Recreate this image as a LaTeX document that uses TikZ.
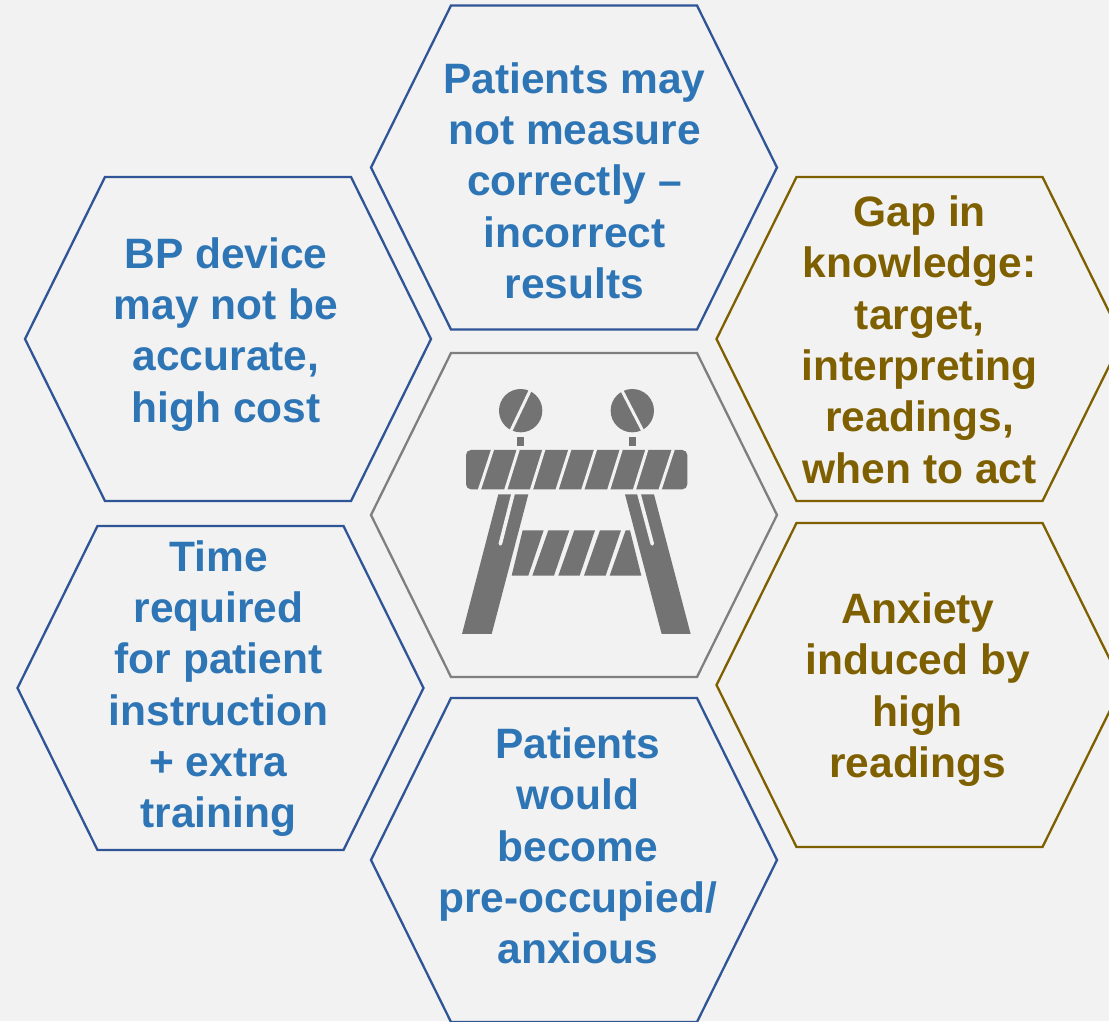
\documentclass[tikz,border=0pt]{standalone}
\usepackage{fontspec}
\setmainfont{Liberation Sans}
\definecolor{bg}{HTML}{F2F2F2}
\definecolor{blueline}{HTML}{2F5597}
\definecolor{bluetext}{HTML}{2E75B6}
\definecolor{gold}{HTML}{7F6000}
\definecolor{greyline}{HTML}{7F7F7F}
\definecolor{icon}{HTML}{737373}
\tikzset{
  x=1pt,y=-1pt,
  hexline/.style={line width=2.3pt,line join=miter},
  label/.style={align=center,font=\fontsize{42.5}{51.3}\selectfont\bfseries,inner sep=0pt},
  iconfill/.style={fill=icon,draw=none},
  icongap/.style={draw=bg,line width=3pt},
  iconslot/.style={draw=bg,line width=3.6pt,line cap=round},
}
\newcommand{\hexa}[3]{%
  \draw[hexline,draw=#3] (#1,#2) +(-203,0) -- +(-123,-162) -- +(123,-162) -- +(203,0) -- +(123,162) -- +(-123,162) -- cycle;}
\begin{document}
\begin{tikzpicture}
\path[use as bounding box,fill=bg] (0,0) rectangle (1109,1021);
\begin{scope}
\clip (0,0) rectangle (1109,1021);
\hexa{574}{167.5}{blueline}
\hexa{228}{339}{blueline}
\hexa{919.5}{339}{gold}
\hexa{574}{515}{greyline}
\hexa{220.5}{688}{blueline}
\hexa{919.5}{685}{gold}
\hexa{574}{860}{blueline}
\end{scope}
\node[label,text=bluetext] (t1) at (574.5,180.7) {Patients may\\not measure\\correctly –\\incorrect\\results};
\node[label,text=bluetext] (t2) at (226,334.2) {BP device\\may not be\\accurate,\\high cost};
\node[label,text=gold] (t3) at (919.8,339.7) {Gap in\\knowledge:\\target,\\interpreting\\readings,\\when to act};
\node[label,text=bluetext] (t4) at (218.5,688.7) {Time\\required\\for patient\\instruction\\+ extra\\training};
\node[label,text=gold] (t5) at (917.8,689.7) {Anxiety\\induced by\\high\\readings};
\node[label,text=bluetext] (t6) at (577.8,846) {Patients\\would\\become\\pre-occupied/\\anxious};
% barrier icon, in the coordinates of a 3x crop
\begin{scope}[shift={(440,370)},x=0.3333pt,y=-0.3333pt]
\fill[iconfill] (242,122) circle[radius=65];
\fill[iconfill] (577,122) circle[radius=65];
\draw[icongap] (273,56) -- (211,186);
\draw[icongap] (545,60) -- (610,186);
\fill[iconfill] (232,200) rectangle (251,228);
\fill[iconfill] (568,200) rectangle (587,228);
\fill[iconfill,rounded corners=5pt] (78,240) rectangle (742,358);
\foreach \a/\b in {158/118,235/197,312/274,390/351,467/428,544/506,621/583,700/660}
  \draw[icongap] (\a,238) -- (\b,360);
\fill[iconfill] (175,373) -- (265,373) -- (155,792) -- (66,792) -- cycle;
\fill[iconfill] (555,373) -- (642,373) -- (752,792) -- (665,792) -- cycle;
\draw[iconslot] (220,368) -- (181,522);
\draw[iconslot] (596,368) -- (637,522);
\fill[iconfill] (248,481) -- (311,481) -- (265,617) -- (215,617) -- cycle;
\fill[iconfill] (325,481) -- (388,481) -- (342,617) -- (277,617) -- cycle;
\fill[iconfill] (403,481) -- (465,481) -- (419,617) -- (355,617) -- cycle;
\fill[iconfill] (480,481) -- (543,481) -- (497,617) -- (432,617) -- cycle;
\fill[iconfill] (557,481) -- (570,481) -- (604,617) -- (509,617) -- cycle;
\end{scope}
\end{tikzpicture}
\end{document}
